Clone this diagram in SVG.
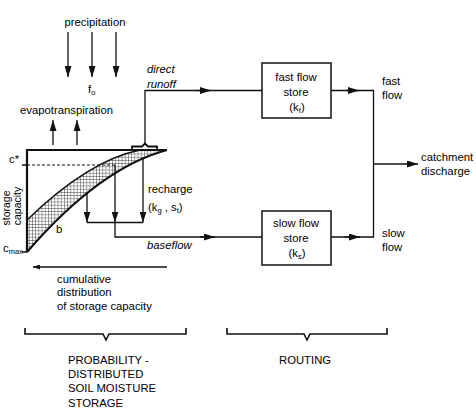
<svg xmlns="http://www.w3.org/2000/svg" width="476" height="410" viewBox="0 0 476 410">
<defs>
<style>
text{font-family:"Liberation Sans",Arial,sans-serif;font-size:11.3px;fill:#000}
.it{font-style:italic}
.mid{text-anchor:middle}
.ln{fill:none;stroke:#111;stroke-width:1.3}
.thk{fill:none;stroke:#111;stroke-width:2.2}
.box{fill:#fff;stroke:#111;stroke-width:1.5}
.sub{font-size:7.5px}
.rot{font-size:10.5px;text-anchor:middle}
</style>
<marker id="ah" markerUnits="userSpaceOnUse" markerWidth="11" markerHeight="7" refX="11" refY="3.5" orient="auto">
<path d="M0,0 L11,3.5 L0,7 z" fill="#111"/>
</marker>
<marker id="ahs" markerUnits="userSpaceOnUse" markerWidth="7" markerHeight="5" refX="7" refY="2.5" orient="auto">
<path d="M0,0 L7,2.5 L0,5 z" fill="#111"/>
</marker>
<pattern id="hatch" width="3.2" height="3.2" patternUnits="userSpaceOnUse">
<path d="M0,0 H3.2 M0,0 V3.2" stroke="#222" stroke-width="0.8" fill="none"/>
</pattern>
</defs>

<g id="precipitation">
<text class="mid" x="95" y="26">precipitation</text>
<text x="88" y="93">f<tspan class="sub" dy="2">o</tspan></text>
</g>

<g id="evapotranspiration">
<text x="20" y="114">evapotranspiration</text>
</g>

<g id="soil-store">
<path d="M27,220 C60,188 100,158 140,150 L167,150 C110,165 60,214 27,252 Z" fill="url(#hatch)"/>
<path class="ln" d="M27,220 C60,188 100,158 140,150"/>
<path class="thk" d="M27,252 C60,214 110,165 167,150"/>
<path class="thk" d="M27,252 V150 H167"/>
<path d="M27,165 H115" stroke="#111" stroke-width="1" stroke-dasharray="3,2" fill="none"/>
<path class="ln" d="M22,165 H27 M22,252 H27" stroke-width="0.8"/>
<path d="M132,150 V146.5 H142 L145,143.5 L148,146.5 H157 V150" fill="none" stroke="#111" stroke-width="1.8"/>
<text x="9" y="163">c*</text>
<text x="3" y="252">c<tspan class="sub" dy="2">max</tspan></text>
<text class="rot" transform="translate(10,208) rotate(-90)">storage</text>
<text class="rot" transform="translate(21,206) rotate(-90)">capacity</text>
<text x="56" y="233">b</text>
</g>

<g id="recharge">
<text x="148" y="193">recharge</text>
<text x="148" y="211">(k<tspan class="sub" dy="2">g</tspan><tspan dy="-2"> , s</tspan><tspan class="sub" dy="2">t</tspan><tspan dy="-2">)</tspan></text>
</g>

<g id="fast-flow-store">
<rect class="box" x="262" y="63" width="69" height="55"/>
<text class="mid" x="296" y="81">fast flow</text>
<text class="mid" x="296" y="96">store</text>
<text class="mid" x="297" y="111">(k<tspan class="sub" dy="2">f</tspan><tspan dy="-2">)</tspan></text>
</g>

<g id="slow-flow-store">
<rect class="box" x="262" y="211" width="69" height="54"/>
<text class="mid" x="296" y="227">slow flow</text>
<text class="mid" x="296" y="242">store</text>
<text class="mid" x="297" y="257">(k<tspan class="sub" dy="2">s</tspan><tspan dy="-2">)</tspan></text>
</g>

<g id="labels">
<text class="it" x="147" y="73">direct</text>
<text class="it" x="147" y="88">runoff</text>
<text class="it" x="147" y="249">baseflow</text>
<text x="382" y="85">fast</text>
<text x="382" y="99">flow</text>
<text x="382" y="237">slow</text>
<text x="382" y="251">flow</text>
<text x="421" y="161">catchment</text>
<text x="421" y="175">discharge</text>
<text x="57" y="283">cumulative</text>
<text x="57" y="296">distribution</text>
<text x="57" y="310">of storage capacity</text>
</g>

<g id="soil-moisture-bracket">
<path d="M25,328 V334 H103 L106,340 L109,334 H186 V328" fill="none" stroke="#111" stroke-width="1.6"/>
<text x="68" y="364">PROBABILITY -</text>
<text x="68" y="378">DISTRIBUTED</text>
<text x="68" y="392">SOIL MOISTURE</text>
<text x="68" y="407">STORAGE</text>
</g>

<g id="routing-bracket">
<path d="M227,328 V334 H304 L307,340 L310,334 H387 V328" fill="none" stroke="#111" stroke-width="1.6"/>
<text x="279" y="364">ROUTING</text>
</g>

<g id="connectors">
<path class="ln" d="M68,32 V77" marker-end="url(#ah)"/>
<path class="ln" d="M92,32 V77" marker-end="url(#ah)"/>
<path class="ln" d="M116,32 V77" marker-end="url(#ah)"/>
<path class="ln" d="M53,145 V120" marker-end="url(#ah)"/>
<path class="ln" d="M77,145 V120" marker-end="url(#ah)"/>
<path class="ln" d="M145,143 V90.5 H262"/>
<path class="ln" d="M195,90.5 H211" marker-end="url(#ah)"/>
<path class="ln" d="M87,194 V222.5" marker-end="url(#ah)"/>
<path class="ln" d="M115,165 V222.5" marker-end="url(#ah)"/>
<path class="ln" d="M143,157 V222.5" marker-end="url(#ah)"/>
<path class="ln" d="M87,222.5 H143"/>
<path class="ln" d="M115,222.5 V237 H262"/>
<path class="ln" d="M200,237 H215" marker-end="url(#ah)"/>
<path class="ln" d="M331,90.5 H373.5 V237 H331"/>
<path class="ln" d="M345,90.5 H359" marker-end="url(#ah)"/>
<path class="ln" d="M345,237 H360" marker-end="url(#ah)"/>
<path class="ln" d="M373.5,164 H418" marker-end="url(#ah)"/>
<path class="ln" d="M167,267 H33" stroke-width="1" marker-end="url(#ahs)"/>
</g>
</svg>
